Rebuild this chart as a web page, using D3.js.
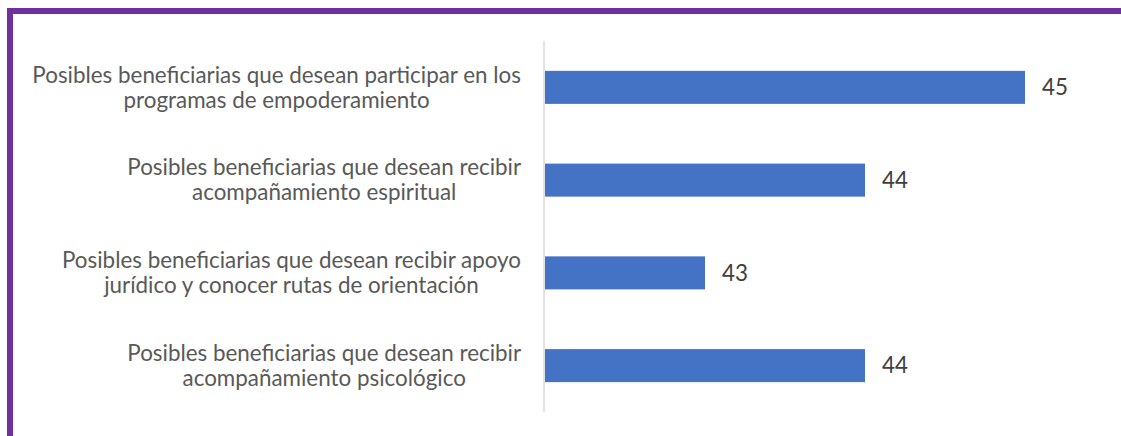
<!DOCTYPE html>
<html><head><meta charset="utf-8">
<script src="https://cdn.jsdelivr.net/npm/d3@7"></script>
<style>html,body{margin:0;padding:0;background:#fff;overflow:hidden}</style>
</head><body>
<svg id="c" width="1121" height="436"></svg>
<script>
const categories = [
  ["Posibles beneficiarias que desean participar en los", "programas de empoderamiento"],
  ["Posibles beneficiarias que desean recibir", "acompañamiento espiritual"],
  ["Posibles beneficiarias que desean recibir apoyo", "jurídico y conocer rutas de orientación"],
  ["Posibles beneficiarias que desean recibir", "acompañamiento psicológico"]
];
const values = [45, 44, 43, 44];
const xDomain = [42, 45.5];

const svg = d3.select("#c");
const font = "Lato, 'Open Sans', sans-serif";
// frame
svg.append("rect").attr("x",7).attr("y",8).attr("width",1114).attr("height",6).attr("fill","#7030A0");
svg.append("rect").attr("x",7).attr("y",8).attr("width",6).attr("height",428).attr("fill","#7030A0");

const keys = categories.map((c,i)=>i);
const x = d3.scaleLinear().domain(xDomain).range([545, 1105]);
const y = d3.scaleBand().domain(keys).range([41, 412]).paddingInner(0.644).paddingOuter(0.322);

svg.selectAll("rect.bar").data(values).join("rect").attr("class","bar")
  .attr("x", x(xDomain[0])).attr("y",(d,i)=>y(i))
  .attr("width", d=>x(d)-x(xDomain[0])).attr("height", y.bandwidth())
  .attr("fill","#4472C4");

svg.append("line").attr("x1",544).attr("x2",544).attr("y1",41).attr("y2",412)
  .attr("stroke","#d9d9d9").attr("stroke-width",1.5);

let fs = 20;
const labels = svg.selectAll("text.cat").data(categories).join("text").attr("class","cat")
  .attr("font-family",font).attr("font-size",fs).attr("fill","#595959")
  .attr("text-anchor","middle");
labels.selectAll("tspan").data(d=>d).join("tspan").text(t=>t);
// fit font size to target width of widest line
let maxW = 0;
labels.selectAll("tspan").each(function(){ maxW = Math.max(maxW, this.getComputedTextLength()); });
fs = fs * 489 / maxW;
labels.attr("font-size", fs);
const lh = 25;
labels.each(function(d,i){
  const t = d3.select(this);
  let w = 0;
  t.selectAll("tspan").each(function(){ w = Math.max(w, this.getComputedTextLength()); });
  const cx = 521 - w/2;
  const cy = y(i) + y.bandwidth()/2;
  t.selectAll("tspan").attr("x", cx)
    .attr("y",(s,j)=> cy + (j - (d.length-1)/2)*lh)
    .attr("dy","0.35em");
});

svg.selectAll("text.val").data(values).join("text").attr("class","val")
  .attr("x", d=>x(d)+17).attr("y",(d,i)=>y(i)+y.bandwidth()/2).attr("dy","0.35em")
  .attr("font-family",font).attr("font-size",fs).attr("fill","#404040")
  .text(d=>d);
</script>
</body></html>
